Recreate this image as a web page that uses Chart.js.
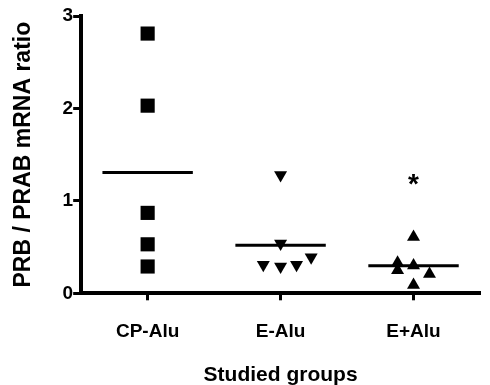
<!DOCTYPE html>
<html>
<head>
<meta charset="utf-8">
<script src="https://cdn.jsdelivr.net/npm/chart.js@4"></script>
<style>
  body { margin: 0; background: #fff; }
</style>
</head>
<body>
<canvas id="myChart" width="490" height="385"></canvas>
<script>
// groups on the x axis
const categories = ["CP-Alu", "E-Alu", "E+Alu"];

// PRB / PRAB mRNA ratio, one value per animal
const cpAlu = [2.81, 2.03, 0.87, 0.53, 0.29];
const eMinusAlu = [1.28, 0.54, 0.31, 0.29, 0.31, 0.39];
const ePlusAlu = [0.61, 0.33, 0.25, 0.30, 0.21, 0.09];

// horizontal scatter of the dots inside a group (category units)
const cpJitter = [0, 0, 0, 0, 0];
const eMinusJitter = [0, 0, -0.13, 0, 0.12, 0.23];
const ePlusJitter = [0, -0.12, -0.12, 0, 0.12, 0];

// y ticks
const yTicks = [0, 1, 2, 3];

// significance mark
const starGroup = 3;
const starValue = 1.23;

const mean = (arr) => arr.reduce((a, b) => a + b, 0) / arr.length;
const halfLine = 0.34;

const toPoints = (vals, jit, g) => vals.map((v, i) => ({ x: g + jit[i], y: v }));
const meanLine = (vals, g) => [
  { x: g - halfLine, y: mean(vals) },
  { x: g + halfLine, y: mean(vals) },
];

const FONT = "'Liberation Sans', Arial, sans-serif";

const starPlugin = {
  id: "starPlugin",
  afterDatasetsDraw(chart) {
    const { ctx, scales } = chart;
    const x = scales.x.getPixelForValue(starGroup);
    const y = scales.y.getPixelForValue(starValue);
    ctx.save();
    ctx.font = `bold 28px ${FONT}`;
    ctx.fillStyle = "#000";
    ctx.textAlign = "center";
    ctx.textBaseline = "alphabetic";
    const m = ctx.measureText("*");
    const base = y + (m.actualBoundingBoxAscent - m.actualBoundingBoxDescent) / 2;
    ctx.fillText("*", x, base);
    ctx.restore();
  },
};

const lineStyle = {
  type: "line",
  borderColor: "#000",
  borderWidth: 3,
  pointRadius: 0,
  fill: false,
};

new Chart(document.getElementById("myChart"), {
  type: "scatter",
  data: {
    datasets: [
      { ...lineStyle, data: meanLine(cpAlu, 1) },
      { ...lineStyle, data: meanLine(eMinusAlu, 2) },
      { ...lineStyle, data: meanLine(ePlusAlu, 3) },
      {
        data: toPoints(cpAlu, cpJitter, 1),
        pointStyle: "rect",
        pointRadius: 10,
        backgroundColor: "#000",
        borderWidth: 0,
      },
      {
        data: toPoints(eMinusAlu, eMinusJitter, 2),
        pointStyle: "triangle",
        rotation: 180,
        pointRadius: 7.5,
        backgroundColor: "#000",
        borderWidth: 0,
      },
      {
        data: toPoints(ePlusAlu, ePlusJitter, 3),
        pointStyle: "triangle",
        pointRadius: 7.5,
        backgroundColor: "#000",
        borderWidth: 0,
      },
    ],
  },
  options: {
    responsive: false,
    animation: false,
    events: [],
    clip: false,
    layout: { padding: { top: 16, right: 2, left: 10, bottom: 0 } },
    plugins: {
      legend: { display: false },
      tooltip: { enabled: false },
    },
    scales: {
      x: {
        type: "linear",
        min: 0.5,
        max: 3.5,
        afterBuildTicks: (axis) => {
          axis.ticks = categories.map((c, i) => ({ value: i + 1 }));
        },
        ticks: {
          callback: (v) => categories[v - 1],
          color: "#000",
          font: { family: FONT, size: 19, weight: "bold" },
          padding: 20,
          maxRotation: 0,
        },
        grid: {
          drawOnChartArea: false,
          color: "#000",
          tickLength: 7,
          tickWidth: 3,
        },
        border: { color: "#000", width: 4 },
        title: {
          display: true,
          text: "Studied groups",
          color: "#000",
          font: { family: FONT, size: 21, weight: "bold", lineHeight: 0.9 },
          padding: { top: 3, bottom: 0 },
        },
      },
      y: {
        min: 0,
        max: 3,
        afterBuildTicks: (axis) => {
          axis.ticks = yTicks.map((v) => ({ value: v }));
        },
        ticks: {
          color: "#000",
          font: { family: FONT, size: 19, weight: "bold" },
          padding: 0,
        },
        grid: {
          drawOnChartArea: false,
          color: "#000",
          tickLength: 8,
          tickWidth: 3,
        },
        border: { color: "#000", width: 4 },
        title: {
          display: true,
          text: "PRB / PRAB mRNA ratio",
          color: "#000",
          font: { family: FONT, size: 23, weight: "bold" },
          padding: { top: 0, bottom: 25 },
        },
      },
    },
  },
  plugins: [starPlugin],
});
</script>
</body>
</html>
